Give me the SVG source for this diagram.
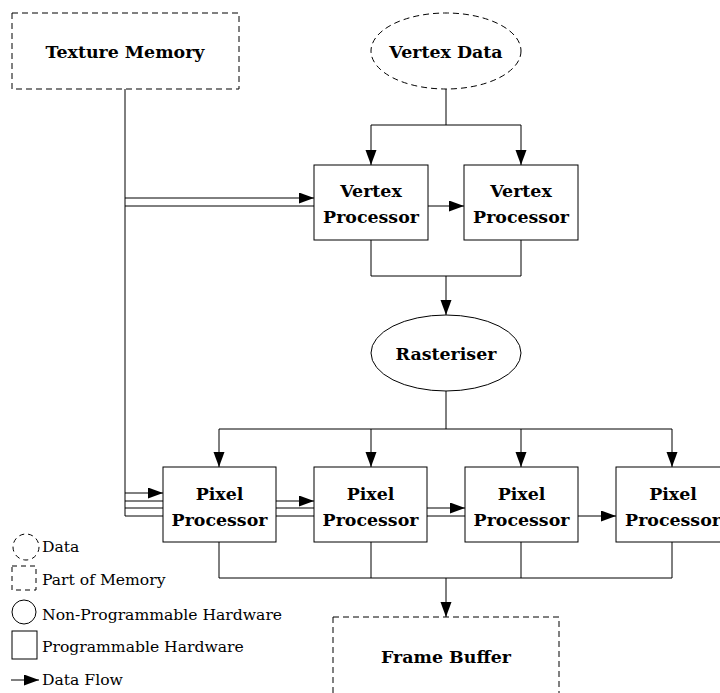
<svg xmlns="http://www.w3.org/2000/svg" width="720" height="693" viewBox="0 0 720 693">
  <style>
    .shape { fill: #ffffff; stroke: #000000; stroke-width: 1; }
    .dashed { stroke-dasharray: 6 4; }
    .wire { fill: none; stroke: #000000; stroke-width: 1; }
    .label { font-family: "DejaVu Serif", "Liberation Serif", serif; font-weight: bold; font-size: 17.4px; text-anchor: middle; fill: #000000; }
    .legend { font-family: "DejaVu Serif", "Liberation Serif", serif; font-size: 15.6px; fill: #000000; }
  </style>
  <defs>
    <marker id="arrow" markerUnits="userSpaceOnUse" markerWidth="16" markerHeight="12" refX="15" refY="5.5" orient="auto">
      <path d="M0,0 L15,5.5 L0,11 z" fill="#000000"/>
    </marker>
  </defs>
  <rect width="720" height="693" fill="#ffffff"/>

  <!-- connectors -->
  <g id="connectors" class="wire">
    <!-- vertex data fan-out -->
    <path d="M446,89 V125 M371,125 H521"/>
    <path d="M371,125 V165" marker-end="url(#arrow)"/>
    <path d="M521,125 V165" marker-end="url(#arrow)"/>
    <!-- texture memory bus -->
    <path d="M125,89 V516"/>
    <path d="M125,198 H314" marker-end="url(#arrow)"/>
    <path d="M125,206 H314"/>
    <path d="M428,206 H464" marker-end="url(#arrow)"/>
    <!-- vertex processors to rasteriser -->
    <path d="M371,240 V276 H521 V240"/>
    <path d="M446,276 V315" marker-end="url(#arrow)"/>
    <!-- rasteriser fan-out -->
    <path d="M446,391 V429 M219,429 H672"/>
    <path d="M219,429 V467" marker-end="url(#arrow)"/>
    <path d="M371,429 V467" marker-end="url(#arrow)"/>
    <path d="M521,429 V467" marker-end="url(#arrow)"/>
    <path d="M672,429 V467" marker-end="url(#arrow)"/>
    <!-- texture and data into the pixel chain -->
    <path d="M125,493 H163" marker-end="url(#arrow)"/>
    <path d="M125,501 H163 M125,508 H163 M125,516 H163"/>
    <path d="M276,501 H314" marker-end="url(#arrow)"/>
    <path d="M276,508 H314 M276,516 H314"/>
    <path d="M427,508 H465" marker-end="url(#arrow)"/>
    <path d="M427,516 H465"/>
    <path d="M578,516 H616" marker-end="url(#arrow)"/>
    <!-- pixel processors to frame buffer -->
    <path d="M219,542 V578 H672 V542 M371,542 V578 M521,542 V578"/>
    <path d="M446,578 V617" marker-end="url(#arrow)"/>
  </g>

  <g id="texture-memory">
    <rect class="shape dashed" x="12" y="13" width="227" height="76"/>
    <text class="label" x="125" y="58">Texture Memory</text>
  </g>

  <g id="vertex-data">
    <ellipse class="shape dashed" cx="446" cy="51" rx="75" ry="38"/>
    <text class="label" x="446" y="58">Vertex Data</text>
  </g>

  <g id="vertex-processor-1">
    <rect class="shape" x="314" y="165" width="114" height="75"/>
    <text class="label" x="371" y="197">Vertex</text>
    <text class="label" x="371" y="223">Processor</text>
  </g>

  <g id="vertex-processor-2">
    <rect class="shape" x="464" y="165" width="114" height="75"/>
    <text class="label" x="521" y="197">Vertex</text>
    <text class="label" x="521" y="223">Processor</text>
  </g>

  <g id="rasteriser">
    <ellipse class="shape" cx="446" cy="353" rx="75" ry="38"/>
    <text class="label" x="446" y="360">Rasteriser</text>
  </g>

  <g id="pixel-processor-1">
    <rect class="shape" x="163" y="467" width="113" height="75"/>
    <text class="label" x="219.5" y="500">Pixel</text>
    <text class="label" x="219.5" y="526">Processor</text>
  </g>

  <g id="pixel-processor-2">
    <rect class="shape" x="314" y="467" width="113" height="75"/>
    <text class="label" x="370.5" y="500">Pixel</text>
    <text class="label" x="370.5" y="526">Processor</text>
  </g>

  <g id="pixel-processor-3">
    <rect class="shape" x="465" y="467" width="113" height="75"/>
    <text class="label" x="521.5" y="500">Pixel</text>
    <text class="label" x="521.5" y="526">Processor</text>
  </g>

  <g id="pixel-processor-4">
    <rect class="shape" x="616" y="467" width="114" height="75"/>
    <text class="label" x="673" y="500">Pixel</text>
    <text class="label" x="673" y="526">Processor</text>
  </g>

  <g id="frame-buffer">
    <rect class="shape dashed" x="333" y="617" width="226" height="77"/>
    <text class="label" x="446" y="663">Frame Buffer</text>
  </g>

  <!-- key -->
  <g id="legend">
    <circle class="shape" cx="26" cy="547" r="13" stroke-dasharray="5 4"/>
    <text class="legend" x="42" y="552">Data</text>
    <rect class="shape" x="12" y="566" width="24" height="24" stroke-dasharray="5 4"/>
    <text class="legend" x="42" y="585">Part of Memory</text>
    <circle class="shape" cx="24" cy="612" r="12"/>
    <text class="legend" x="42" y="620">Non-Programmable Hardware</text>
    <rect class="shape" x="12" y="631" width="25" height="28"/>
    <text class="legend" x="42" y="652">Programmable Hardware</text>
    <path class="wire" d="M11,680 H39" marker-end="url(#arrow)"/>
    <text class="legend" x="42" y="685">Data Flow</text>
  </g>
</svg>
